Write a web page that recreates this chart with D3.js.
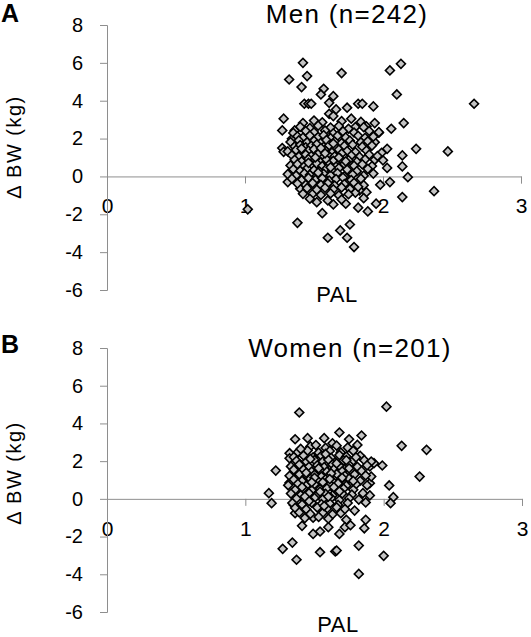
<!DOCTYPE html>
<html>
<head>
<meta charset="utf-8">
<script src="https://cdn.jsdelivr.net/npm/d3@7"></script>
<style>
  html, body { margin: 0; padding: 0; background: #fff; }
  svg { display: block; font-family: Arial, "Liberation Sans", Helvetica, sans-serif; }
</style>
</head>
<body>
<svg id="chart" width="531" height="637"></svg>
<script>
// ---- Data ----
const xTicks = [0, 1, 2, 3];
const yTicks = [-6, -4, -2, 0, 2, 4, 6, 8];
const panelLetters = ["A", "B"];
const panelTitles = ["Men (n=242)", "Women (n=201)"];
const xTitle = "PAL";
const yTitle = "\u0394 BW (kg)";

// Men: [PAL, ΔBW kg]
const menPoints = [
  [1.42,6.00],[1.32,5.12],[1.45,5.30],[1.70,5.46],[2.05,5.60],[2.13,5.95],[1.41,4.72],[1.57,4.63],
  [1.55,4.33],[1.64,4.24],[2.10,4.33],[2.66,3.84],[1.43,3.84],[1.46,3.84],[1.48,3.84],[1.61,3.89],
  [1.74,3.63],[1.82,3.84],[1.85,3.84],[1.93,3.70],[1.66,3.54],[1.61,3.31],[1.64,3.19],[1.28,3.05],
  [1.77,3.05],[1.27,2.43],[1.42,2.82],[1.94,2.82],[2.15,2.82],[2.06,2.52],[1.88,2.64],[1.97,2.31],
  [2.24,1.46],[2.47,1.32],[2.14,1.11],[2.03,1.46],[2.14,0.53],[2.18,-0.04],[2.05,-0.30],[1.98,-0.44],
  [2.37,-0.78],[2.14,-1.09],[1.95,-1.44],[1.89,-1.85],[1.82,-1.65],[1.73,-1.44],[1.56,-1.94],[1.60,-1.27],
  [1.52,-1.36],[1.64,-1.48],[1.02,-1.74],[1.38,-2.45],[1.76,-2.54],[1.69,-2.85],[1.60,-3.24],[1.74,-3.24],
  [1.79,-3.73],[1.31,-0.30],[1.40,-0.65],[1.49,-0.92],[1.83,-0.74],[1.88,-0.83],[1.80,-0.86],[1.94,0.88],
  [2.00,0.85],[1.94,1.81],[1.80,2.61],[1.97,2.34],[1.36,2.43],[1.27,1.50],[1.28,1.30],[1.34,1.99],
  [2.03,0.45],[1.99,1.25],
  [1.50,2.95],[1.56,2.86],[1.70,2.92],[1.84,2.88],
  [1.40,2.62],[1.47,2.55],[1.53,2.68],[1.62,2.58],[1.68,2.66],[1.75,2.52],[1.86,2.60],
  [1.35,2.30],[1.44,2.40],[1.50,2.33],[1.58,2.42],[1.64,2.28],[1.71,2.38],[1.79,2.32],[1.90,2.40],
  [1.38,2.12],[1.42,2.05],[1.47,2.16],[1.53,2.08],[1.57,2.18],[1.62,2.02],[1.67,2.14],[1.73,2.06],[1.82,2.15],[1.87,2.04],[1.93,2.10],
  [1.33,1.82],[1.39,1.90],[1.45,1.80],[1.50,1.88],[1.55,1.78],[1.59,1.92],[1.65,1.84],[1.70,1.76],[1.76,1.89],[1.84,1.80],[1.89,1.86],
  [1.36,1.58],[1.40,1.66],[1.44,1.54],[1.48,1.62],[1.52,1.70],[1.57,1.56],[1.61,1.64],[1.66,1.52],[1.72,1.61],[1.78,1.68],[1.85,1.57],[1.92,1.63],
  [1.31,1.32],[1.37,1.40],[1.42,1.28],[1.46,1.36],[1.50,1.44],[1.54,1.30],[1.58,1.38],[1.63,1.26],[1.68,1.42],[1.74,1.34],[1.80,1.29],[1.88,1.37],
  [1.34,1.12],[1.39,1.05],[1.44,1.16],[1.48,1.08],[1.53,1.18],[1.57,1.02],[1.60,1.14],[1.65,1.06],[1.70,1.20],[1.77,1.10],[1.83,1.03],[1.90,1.15],[1.96,1.08],
  [1.36,0.88],[1.41,0.80],[1.46,0.92],[1.50,0.84],[1.55,0.76],[1.59,0.90],[1.64,0.82],[1.69,0.94],[1.75,0.86],[1.81,0.78],[1.87,0.90],
  [1.33,0.58],[1.38,0.65],[1.43,0.54],[1.48,0.62],[1.52,0.68],[1.56,0.55],[1.61,0.63],[1.66,0.52],[1.72,0.66],[1.79,0.57],[1.85,0.64],[1.92,0.55],
  [1.35,0.38],[1.40,0.30],[1.45,0.42],[1.50,0.33],[1.54,0.26],[1.59,0.40],[1.63,0.32],[1.68,0.44],[1.74,0.36],[1.81,0.28],[1.89,0.40],
  [1.31,0.12],[1.37,0.05],[1.43,0.16],[1.47,0.08],[1.52,0.02],[1.57,0.14],[1.62,0.06],[1.67,0.18],[1.72,0.00],[1.78,0.10],[1.86,0.04],[1.93,0.15],
  [1.34,-0.12],[1.41,-0.20],[1.46,-0.08],[1.51,-0.18],[1.56,-0.10],[1.61,-0.22],[1.66,-0.14],[1.71,-0.06],[1.77,-0.19],[1.84,-0.12],
  [1.38,-0.38],[1.44,-0.45],[1.49,-0.35],[1.55,-0.44],[1.60,-0.36],[1.65,-0.48],[1.72,-0.40],[1.79,-0.34],[1.86,-0.46],
  [1.45,-0.62],[1.52,-0.70],[1.58,-0.60],[1.64,-0.68],[1.70,-0.58],[1.76,-0.66],[1.82,-0.55],
  [1.42,-0.92],[1.55,-0.98],[1.62,-0.90],[1.68,-1.00],[1.75,-0.94],
  [1.47,-1.18],[1.70,-1.22],[1.86,-1.15],
  [1.51,1.00],[1.58,1.22],[1.46,0.72],[1.62,0.48],[1.55,1.50],[1.68,1.00],[1.41,1.47],[1.64,1.74],[1.53,0.20],[1.73,0.80]
];

// Women: [PAL, ΔBW kg]
const womenPoints = [
  [1.39,4.58],[2.02,4.89],[1.68,3.52],[1.84,3.36],[1.75,3.16],[1.36,3.16],[1.45,3.22],[1.57,3.22],
  [1.81,2.86],[2.13,2.81],[2.31,2.60],[1.63,2.95],[1.32,2.42],[1.32,2.15],[1.22,1.50],[1.99,1.77],
  [2.26,1.18],[2.04,0.71],[2.07,0.09],[2.05,-0.23],[1.17,0.30],[1.19,-0.23],[1.32,0.86],[1.90,0.18],
  [1.87,-0.19],[1.87,-1.11],[1.86,-1.56],[1.79,-0.62],[1.69,-0.76],[1.73,-1.11],[1.68,-1.86],[1.54,-1.73],
  [1.49,-1.86],[1.41,-1.43],[1.60,-1.50],[1.34,-2.32],[1.27,-2.65],[1.37,-3.23],[1.54,-2.83],[1.65,-2.79],
  [1.66,-2.74],[1.82,-2.48],[2.00,-3.02],[1.82,-3.98],[1.90,1.72],[1.72,-1.50],[1.76,-1.40],[1.49,-1.00],
  [1.35,-0.32],[1.36,-0.76],[1.90,0.83],[1.91,1.18],[1.93,1.89],
  [1.47,2.78],[1.58,2.70],[1.66,2.82],[1.74,2.72],
  [1.38,2.48],[1.45,2.56],[1.53,2.45],[1.61,2.54],[1.69,2.46],[1.78,2.55],
  [1.35,2.22],[1.42,2.30],[1.49,2.20],[1.55,2.28],[1.62,2.18],[1.68,2.32],[1.73,2.24],[1.83,2.28],
  [1.37,2.02],[1.44,1.95],[1.50,2.06],[1.56,1.98],[1.60,2.08],[1.65,1.94],[1.71,2.04],[1.77,1.96],[1.86,2.05],[1.91,1.98],
  [1.33,1.72],[1.40,1.80],[1.46,1.70],[1.52,1.78],[1.57,1.68],[1.63,1.82],[1.68,1.74],[1.75,1.80],[1.81,1.70],[1.88,1.78],
  [1.36,1.48],[1.42,1.55],[1.48,1.45],[1.54,1.52],[1.59,1.44],[1.64,1.56],[1.70,1.46],[1.76,1.54],[1.84,1.48],
  [1.32,1.22],[1.39,1.30],[1.45,1.20],[1.50,1.28],[1.55,1.18],[1.61,1.26],[1.66,1.32],[1.72,1.22],[1.79,1.30],[1.87,1.24],
  [1.35,1.02],[1.41,0.95],[1.47,1.06],[1.52,0.98],[1.58,1.04],[1.63,0.94],[1.69,1.00],[1.75,1.08],[1.83,0.96],
  [1.31,0.72],[1.38,0.80],[1.44,0.70],[1.50,0.78],[1.56,0.68],[1.61,0.76],[1.67,0.82],[1.73,0.70],[1.80,0.78],[1.88,0.72],
  [1.36,0.48],[1.42,0.55],[1.48,0.45],[1.54,0.52],[1.59,0.56],[1.65,0.46],[1.71,0.54],[1.78,0.48],
  [1.33,0.28],[1.40,0.20],[1.46,0.30],[1.52,0.22],[1.58,0.26],[1.63,0.18],[1.70,0.28],[1.77,0.22],[1.85,0.30],
  [1.37,0.02],[1.43,-0.05],[1.50,0.05],[1.56,-0.02],[1.62,0.04],[1.68,-0.06],[1.75,0.03],[1.82,-0.04],
  [1.34,-0.22],[1.41,-0.30],[1.48,-0.20],[1.55,-0.28],[1.61,-0.24],[1.67,-0.32],[1.74,-0.22],
  [1.36,-0.48],[1.44,-0.55],[1.52,-0.46],[1.59,-0.52],[1.66,-0.45],[1.72,-0.54],
  [1.39,-0.72],[1.47,-0.80],[1.56,-0.74],[1.63,-0.82],
  [1.43,-1.02],[1.53,-0.96],[1.60,-1.05],
  [1.50,1.12],[1.56,0.88],[1.44,1.38],[1.62,1.35],[1.53,1.62],[1.66,1.88],[1.47,2.12],[1.58,2.38],
  [1.41,0.62],[1.64,0.62],[1.54,0.38],[1.70,1.12],[1.39,1.82],[1.60,0.12],[1.46,-0.12],[1.75,1.62],
  [1.80,2.20],[1.51,2.85],[1.43,0.12],[1.68,0.40],[1.57,-0.38],[1.40,2.65],[1.73,2.05],[1.61,1.05],
  [1.48,0.88],[1.35,1.55],[1.78,0.95]
];

// ---- Layout ----
const svg = d3.select("#chart");
svg.append("rect").attr("width", 531).attr("height", 637).attr("fill", "#fff");

const layouts = [
  { xr: [107, 521], yr: [290, 25], title: [347, 23], xlab: [337, 302], ylab: [21, 147], letter: [1, 22] },
  { xr: [107, 522], yr: [612, 348], title: [350, 357], xlab: [338, 632], ylab: [21, 473], letter: [1, 353] }
];
const datasets = [menPoints, womenPoints];
const axisColor = "#8e8e8e";

layouts.forEach((L, i) => {
  const g = svg.append("g");
  const x = d3.scaleLinear().domain([0, 3]).range(L.xr);
  const y = d3.scaleLinear().domain([-6, 8]).range(L.yr);

  // x axis through y = 0
  const gx = g.append("g")
    .attr("transform", `translate(0,${y(0)})`)
    .call(d3.axisBottom(x).tickValues(xTicks).tickSize(7).tickPadding(15).tickFormat(d => String(d)));
  gx.selectAll("text").attr("font-size", 21).attr("fill", "#000");

  // y axis at x = 0
  const gy = g.append("g")
    .attr("transform", `translate(${x(0)},0)`)
    .call(d3.axisLeft(y).tickValues(yTicks).tickSize(7).tickPadding(17).tickFormat(d => String(d)));
  gy.selectAll("text").attr("font-size", 20).attr("fill", "#000");

  [gx, gy].forEach(a => {
    a.attr("font-family", null);
    a.select(".domain").attr("stroke", axisColor).attr("stroke-width", 1);
    a.selectAll(".tick line").attr("stroke", axisColor).attr("stroke-width", 1);
  });

  // points
  const sym = d3.symbol().type(d3.symbolSquare).size(40);
  g.append("g").selectAll("path")
    .data(datasets[i])
    .join("path")
    .attr("d", sym)
    .attr("transform", d => `translate(${x(d[0])},${y(d[1])}) rotate(45)`)
    .attr("fill", "#c4c4c4")
    .attr("stroke", "#000")
    .attr("stroke-width", 1.6);

  // titles
  g.append("text")
    .attr("x", L.title[0]).attr("y", L.title[1])
    .attr("text-anchor", "middle")
    .attr("font-size", 26).attr("letter-spacing", 1.3)
    .text(panelTitles[i]);

  g.append("text")
    .attr("x", L.xlab[0]).attr("y", L.xlab[1])
    .attr("text-anchor", "middle")
    .attr("font-size", 22).attr("letter-spacing", 0.5)
    .text(xTitle);

  g.append("text")
    .attr("transform", `translate(${L.ylab[0]},${L.ylab[1]}) rotate(-90)`)
    .attr("text-anchor", "middle")
    .attr("font-size", 20).attr("letter-spacing", 1.5)
    .text(yTitle);

  g.append("text")
    .attr("x", L.letter[0]).attr("y", L.letter[1])
    .attr("font-size", 25).attr("font-weight", "bold")
    .text(panelLetters[i]);
});
</script>
</body>
</html>
